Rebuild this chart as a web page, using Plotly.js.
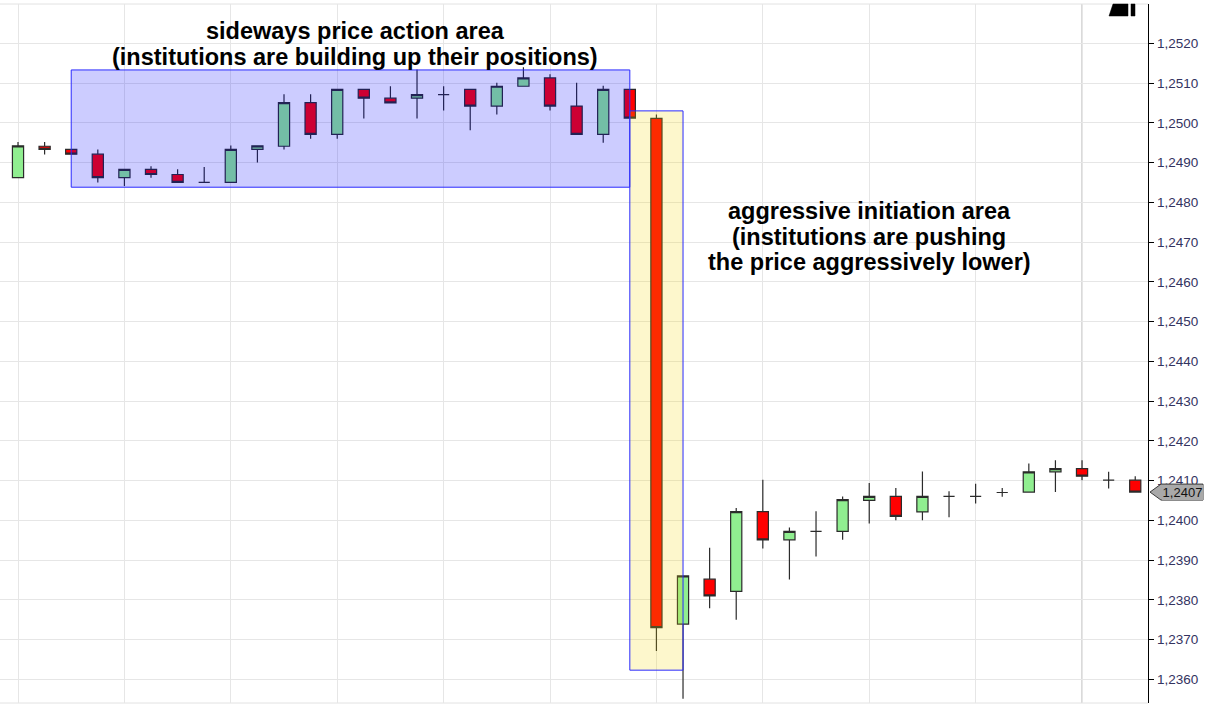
<!DOCTYPE html>
<html>
<head>
<meta charset="utf-8">
<script src="https://cdn.plot.ly/plotly-3.0.1.min.js"></script>
<style>
html,body{margin:0;padding:0;background:#fff;overflow:hidden;}
#chart{width:1212px;height:705px;}
</style>
</head>
<body>
<div id="chart"></div>
<script>
// ---- data ----
const barIndex = [0,1,2,3,4,5,6,7,8,9,10,11,12,13,14,15,16,17,18,19,20,
                  21,22,23,24,25,26,27,28,29,30,31,32,33,34,35,36,37,38,39,40,41,42];
const openPrices = [1.24862,1.24941,1.24933,1.24921,1.24862,1.24883,1.24870,1.24850,1.24850,1.24933,
                    1.24941,1.25051,1.24971,1.25084,1.25062,1.25062,1.25071,1.25084,1.25042,1.25092,
                    1.25113,1.25042,1.24971,1.25084,1.25011,1.23739,1.23852,1.23821,1.24022,1.23951,
                    1.23972,1.23972,1.24050,1.24060,1.24021,1.24060,1.24060,1.24070,1.24071,1.24122,
                    1.24130,1.24101,1.24101];
const highPrices = [1.24952,1.24952,1.24933,1.24933,1.24883,1.24891,1.24883,1.24889,1.24943,1.24942,
                    1.25072,1.25072,1.25084,1.25084,1.25092,1.25134,1.25092,1.25084,1.25101,1.25140,
                    1.25122,1.25101,1.25093,1.25084,1.25021,1.23860,1.23931,1.24031,1.24102,1.23982,
                    1.24023,1.24060,1.24094,1.24081,1.24123,1.24073,1.24092,1.24081,1.24143,1.24151,
                    1.24151,1.24122,1.24111];
const lowPrices  = [1.24862,1.24920,1.24921,1.24850,1.24841,1.24862,1.24850,1.24850,1.24850,1.24900,
                    1.24933,1.24960,1.24960,1.25011,1.25050,1.25011,1.25031,1.24981,1.25021,1.25092,
                    1.25031,1.24971,1.24950,1.25012,1.23671,1.23551,1.23779,1.23750,1.23929,1.23851,
                    1.23909,1.23951,1.23992,1.24000,1.24000,1.24008,1.24042,1.24059,1.24071,1.24071,
                    1.24101,1.24080,1.24071];
const closePrices= [1.24942,1.24933,1.24921,1.24862,1.24883,1.24870,1.24850,1.24850,1.24933,1.24942,
                    1.25051,1.24971,1.25084,1.25062,1.25050,1.25071,1.25071,1.25042,1.25092,1.25113,
                    1.25042,1.24971,1.25084,1.25012,1.23730,1.23860,1.23810,1.24022,1.23951,1.23972,
                    1.23972,1.24052,1.24060,1.24010,1.24060,1.24060,1.24060,1.24070,1.24122,1.24130,
                    1.24111,1.24101,1.24071];

// annotation areas (bar index / price)
const sidewaysArea   = {x0: 2,  x1: 23, y0: 1.24838, y1: 1.25133};
const aggressiveArea = {x0: 23, x1: 25, y0: 1.23623, y1: 1.25030};
const sessionLineBar = 40;

const sidewaysText   = ["sideways price action area", "(institutions are building up their positions)"];
const aggressiveText = ["aggressive initiation area", "(institutions are pushing", "the price aggressively lower)"];

// ---- layout helpers ----
const W = 1212, H = 705;
const M = {l: 0, r: 64, t: 4, b: 2};
const PW = W - M.l - M.r, PH = H - M.t - M.b;
const px = x => (x - M.l) / PW;
const py = y => 1 - (y - M.t) / PH;

const textFont = {family: "Liberation Sans, Arial, sans-serif", size: 23.5, color: "#000", weight: "bold"};

const annotations = [];
const ann1Y = [31, 57];
sidewaysText.forEach((t, i) => annotations.push({
  xref: "paper", yref: "paper", x: px(355), y: py(ann1Y[i]),
  xanchor: "center", yanchor: "middle", text: t, showarrow: false, font: textFont
}));
const ann2Y = [211, 237, 262];
aggressiveText.forEach((t, i) => annotations.push({
  xref: "paper", yref: "paper", x: px(869), y: py(ann2Y[i]),
  xanchor: "center", yanchor: "middle", text: t, showarrow: false, font: textFont
}));

const lastClose = closePrices[closePrices.length - 1];
const lastLabel = lastClose.toFixed(4).replace(".", ",");
annotations.push({
  xref: "paper", yref: "y", x: 1, y: lastClose, xanchor: "left", yanchor: "middle",
  xshift: 13.5, width: 41, height: 15, borderpad: 0, borderwidth: 0,
  bgcolor: "#a9a9a9", text: lastLabel, showarrow: false,
  font: {family: "Liberation Sans, Arial, sans-serif", size: 13, color: "#111"}
});

const shapes = [
  // session line
  {type: "line", xref: "x", yref: "paper", x0: sessionLineBar, x1: sessionLineBar, y0: 0, y1: 1,
   line: {color: "#c4c4c4", width: 1.3}, layer: "below"},
  // top / bottom frame
  {type: "line", xref: "paper", yref: "paper", x0: 0, x1: 1, y0: 1, y1: 1, line: {color: "#e2e2e2", width: 1}, layer: "below"},
  {type: "line", xref: "paper", yref: "paper", x0: 0, x1: 1, y0: 0, y1: 0, line: {color: "#e2e2e2", width: 1}, layer: "below"},
  // sideways area
  {type: "rect", xref: "x", yref: "y", x0: sidewaysArea.x0, x1: sidewaysArea.x1,
   y0: sidewaysArea.y0, y1: sidewaysArea.y1, fillcolor: "rgba(0,0,255,0.2)",
   line: {color: "#2a2aff", width: 1}, layer: "above"},
  // aggressive area
  {type: "rect", xref: "x", yref: "y", x0: aggressiveArea.x0, x1: aggressiveArea.x1,
   y0: aggressiveArea.y0, y1: aggressiveArea.y1, fillcolor: "rgba(245,215,0,0.2)",
   line: {color: "#2a2aff", width: 1}, layer: "above"},
  // last price marker outline
  {type: "path", xref: "paper", yref: "y", xsizemode: "pixel", ysizemode: "pixel",
   xanchor: 1, yanchor: lastClose,
   path: "M 2 0 L 13 8 L 55 8 L 55 -8 L 13 -8 Z",
   fillcolor: "#a9a9a9", line: {color: "#3a3a3a", width: 1}, layer: "above"},
  // scroll icon at top right
  {type: "path", xref: "paper", yref: "paper",
   path: `M ${px(1113)} ${py(4)} L ${px(1128)} ${py(4)} L ${px(1128)} ${py(16)} L ${px(1109)} ${py(16)} Z`,
   fillcolor: "#000", line: {color: "#000", width: 0.5}, layer: "above"},
  {type: "rect", xref: "paper", yref: "paper", x0: px(1131), x1: px(1135), y0: py(16), y1: py(4),
   fillcolor: "#000", line: {color: "#000", width: 0.5}, layer: "above"}
];

const trace = {
  type: "candlestick",
  x: barIndex, open: openPrices, high: highPrices, low: lowPrices, close: closePrices,
  increasing: {fillcolor: "#90ee90", line: {color: "#2b2b2b", width: 1.2}},
  decreasing: {fillcolor: "#ff0000", line: {color: "#2b2b2b", width: 1.2}},
  whiskerwidth: 0, hoverinfo: "skip", showlegend: false
};

const layout = {
  width: W, height: H, margin: M,
  paper_bgcolor: "#fff", plot_bgcolor: "#fff",
  separators: ",.",
  showlegend: false,
  boxgap: 0.4,
  xaxis: {
    range: [-0.677, 42.48], tick0: 0, dtick: 4, showgrid: true, gridcolor: "#e6e6e6", gridwidth: 1,
    showticklabels: false, ticks: "", zeroline: false, showline: false,
    rangeslider: {visible: false}, fixedrange: true
  },
  yaxis: {
    side: "right", range: [1.235404, 1.252989], tick0: 1.236, dtick: 0.001, tickformat: ".4f",
    showgrid: true, gridcolor: "#e6e6e6", gridwidth: 1, zeroline: false,
    showline: true, linecolor: "#000", linewidth: 1.2,
    ticks: "outside", ticklen: 5, tickcolor: "#000", tickwidth: 1,
    tickfont: {family: "Liberation Sans, Arial, sans-serif", size: 13.5, color: "#33335f"},
    fixedrange: true
  },
  shapes: shapes,
  annotations: annotations
};

Plotly.newPlot("chart", [trace], layout, {displayModeBar: false, staticPlot: true});
</script>
</body>
</html>
